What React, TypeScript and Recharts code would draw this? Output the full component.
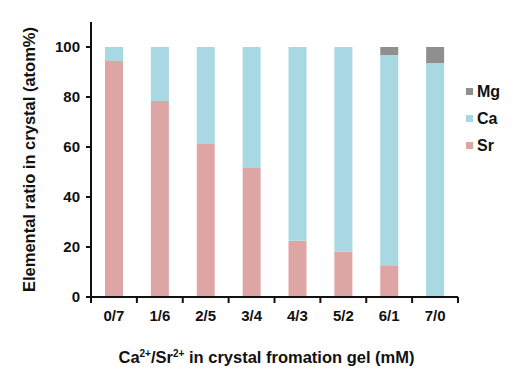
import { Bar, BarChart, Label, Legend, XAxis, YAxis } from "recharts";

const categories = ["0/7", "1/6", "2/5", "3/4", "4/3", "5/2", "6/1", "7/0"];
const sr = [94.4, 78.4, 61.2, 51.6, 22.5, 18.1, 12.7, 0];
const ca = [5.6, 21.6, 38.8, 48.4, 77.5, 81.9, 84.1, 93.6];
const mg = [0, 0, 0, 0, 0, 0, 3.2, 6.4];
const yTicks = [0, 20, 40, 60, 80, 100];

const COLORS: Record<string, string> = {
  Sr: "#dea5a5",
  Ca: "#a8d8e2",
  Mg: "#8f8f8f",
};
const LEGEND_ORDER = ["Mg", "Ca", "Sr"];

const FONT = "'Liberation Sans', Arial, Helvetica, sans-serif";

const chartData = categories.map((name, i) => ({ name, Sr: sr[i], Ca: ca[i], Mg: mg[i] }));

function ElementLegend() {
  return (
    <div style={{ fontFamily: FONT, fontWeight: 700, fontSize: 16, color: "#111" }}>
      {LEGEND_ORDER.map((key) => (
        <div key={key} style={{ display: "flex", alignItems: "center", height: 27 }}>
          <span style={{ width: 7, height: 7, background: COLORS[key], marginRight: 4 }} />
          <span>{key}</span>
        </div>
      ))}
    </div>
  );
}

// category label plus tick marks on the band edges
function CategoryTick(props: any) {
  const { x, y, payload, index } = props;
  const half = payload?.offset ?? 23;
  const axisY = y - 8;
  const last = index === categories.length - 1;
  return (
    <g>
      <line x1={x - half} x2={x - half} y1={axisY} y2={axisY + 6} stroke="#111" strokeWidth={2} />
      {last && <line x1={x + half} x2={x + half} y1={axisY} y2={axisY + 6} stroke="#111" strokeWidth={2} />}
      <text x={x} y={y} dy={16} textAnchor="middle" fontFamily={FONT} fontWeight={700} fontSize={15} fill="#111">
        {payload.value}
      </text>
    </g>
  );
}

function XTitle(props: any) {
  const vb = props.viewBox ?? { x: 0, y: 0, width: 0, height: 0 };
  const cx = vb.x + vb.width / 2 - 8;
  return (
    <text x={cx} y={363} textAnchor="middle" fontFamily={FONT} fontWeight={700} fontSize={16.5} fill="#111">
      Ca<tspan fontSize={10} dy={-6}>2+</tspan>
      <tspan dy={6}>/Sr</tspan>
      <tspan fontSize={10} dy={-6}>2+</tspan>
      <tspan dy={6}> in crystal fromation gel (mM)</tspan>
    </text>
  );
}

export default function App() {
  return (
    <div style={{ position: "fixed", left: 0, top: 0, width: 520, height: 380, background: "#fff" }}>
      <BarChart
        width={520}
        height={380}
        data={chartData}
        barSize={18}
        margin={{ top: 22, right: 62, left: 0, bottom: 0 }}
      >
        <XAxis
          dataKey="name"
          height={83}
          tick={CategoryTick}
          tickMargin={8}
          tickSize={0}
          interval={0}
          axisLine={{ stroke: "#111", strokeWidth: 2 }}
          tickLine={false}
        >
          <Label content={XTitle} />
        </XAxis>
        <YAxis
          width={91}
          domain={[0, 110]}
          ticks={yTicks}
          allowDataOverflow
          tick={{ fontSize: 15, fontWeight: 700, fill: "#111", fontFamily: FONT }}
          tickSize={5}
          tickMargin={6}
          axisLine={{ stroke: "#111", strokeWidth: 2 }}
          tickLine={{ stroke: "#111", strokeWidth: 2 }}
        >
          <Label
            value="Elemental ratio in crystal (atom%)"
            angle={-90}
            position="insideLeft"
            offset={29}
            style={{ textAnchor: "middle", fontSize: 16.5, fontWeight: 700, fill: "#111", fontFamily: FONT }}
          />
        </YAxis>
        <Legend
          layout="vertical"
          align="center"
          verticalAlign="middle"
          content={ElementLegend}
          wrapperStyle={{ left: 466, top: 78, width: 54 }}
        />
        <Bar dataKey="Sr" stackId="a" fill={COLORS.Sr} isAnimationActive={false} />
        <Bar dataKey="Ca" stackId="a" fill={COLORS.Ca} isAnimationActive={false} />
        <Bar dataKey="Mg" stackId="a" fill={COLORS.Mg} isAnimationActive={false} />
      </BarChart>
    </div>
  );
}
